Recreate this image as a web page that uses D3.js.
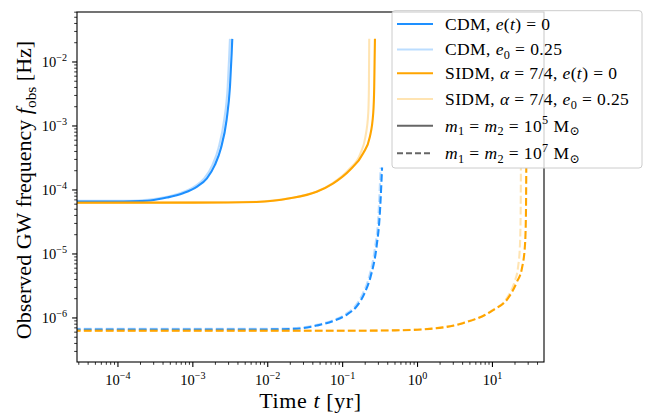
<!DOCTYPE html>
<html>
<head>
<meta charset="utf-8">
<script src="https://cdn.jsdelivr.net/npm/d3@7/dist/d3.min.js"></script>
<style>
  html, body { margin: 0; padding: 0; background: #fff; }
  svg { display: block; }
  text { font-family: "Liberation Serif", "DejaVu Serif", serif; fill: #000; }
</style>
</head>
<body>
<svg id="chart" width="647" height="413"></svg>
<script>
// ---------------- data ----------------
// [time t (yr), observed GW frequency f_obs (Hz)]
const cdmCirc5 = [[2.5e-5,6.6e-5],[1.2e-4,6.62e-5],[2.0e-4,6.72e-5],[2.7e-4,6.85e-5],[4.5e-4,7.6e-5],[7.4e-4,8.9e-5],[1.14e-3,1.13e-4],[1.54e-3,1.52e-4],[1.97e-3,2.46e-4],[2.37e-3,4.5e-4],[2.82e-3,1.24e-3],[3.13e-3,4.1e-3],[3.30e-3,1.38e-2],[3.36e-3,2.3e-2]];
const cdmEcc5  = [[2.5e-5,6.75e-5],[1.15e-4,6.77e-5],[1.9e-4,6.86e-5],[2.5e-4,7.0e-5],[4.2e-4,7.7e-5],[6.9e-4,9.0e-5],[1.06e-3,1.14e-4],[1.43e-3,1.53e-4],[1.83e-3,2.47e-4],[2.2e-3,4.5e-4],[2.62e-3,1.24e-3],[2.92e-3,4.1e-3],[3.07e-3,1.38e-2],[3.13e-3,2.3e-2]];
const sidmCirc5 = [[2.5e-5,6.3e-5],[1e-3,6.35e-5],[7.1e-3,6.5e-5],[1.98e-2,7.4e-5],[4.5e-2,9.4e-5],[7.5e-2,1.27e-4],[0.125,2.05e-4],[0.188,3.74e-4],[0.231,6.8e-4],[0.256,1.58e-3],[0.264,4.1e-3],[0.267,1.0e-2],[0.270,2.3e-2]];
const sidmEcc5  = [[2.5e-5,6.35e-5],[1e-3,6.4e-5],[7.1e-3,6.55e-5],[1.98e-2,7.45e-5],[4.5e-2,9.45e-5],[7.3e-2,1.27e-4],[0.1195,2.05e-4],[0.173,3.74e-4],[0.2016,6.8e-4],[0.2197,1.58e-3],[0.2244,4.1e-3],[0.2265,2.3e-2]];
const cdmCirc7 = [[2.5e-5,6.6e-7],[1.2e-2,6.62e-7],[2.0e-2,6.72e-7],[2.7e-2,6.85e-7],[4.5e-2,7.6e-7],[7.4e-2,8.9e-7],[0.114,1.13e-6],[0.154,1.52e-6],[0.197,2.46e-6],[0.237,4.5e-6],[0.282,1.24e-5],[0.313,4.1e-5],[0.330,1.38e-4],[0.336,2.25e-4]];
const cdmEcc7  = [[2.5e-5,6.75e-7],[1.15e-2,6.77e-7],[1.9e-2,6.86e-7],[2.6e-2,7.0e-7],[4.3e-2,7.7e-7],[7.1e-2,9.0e-7],[0.109,1.14e-6],[0.147,1.53e-6],[0.188,2.47e-6],[0.227,4.5e-6],[0.27,1.24e-5],[0.301,4.1e-5],[0.316,1.38e-4],[0.322,2.25e-4]];
const sidmCirc7 = [[2.5e-5,6.3e-7],[0.1,6.3e-7],[0.5,6.4e-7],[1.46,6.75e-7],[4.04,8.3e-7],[9.84,1.29e-6],[16.6,2.13e-6],[21.2,3.65e-6],[24.8,6.04e-6],[27.2,1.38e-5],[28.0,4.07e-5],[28.3,2.2e-4]];
const sidmEcc7  = [[2.5e-5,6.35e-7],[0.1,6.35e-7],[0.5,6.45e-7],[1.46,6.8e-7],[4.0,8.35e-7],[9.68,1.29e-6],[15.9,2.13e-6],[19.7,3.65e-6],[21.9,6.04e-6],[23.3,1.38e-5],[23.8,4.07e-5],[24.0,2.2e-4]];

const xTickExps = [-4, -3, -2, -1, 0, 1];
const yTickExps = [-6, -5, -4, -3, -2];
const xDomain = [2.84e-5, 48.8];
const yDomain = [2.05e-7, 0.0604];

// ---------------- layout ----------------
const svg = d3.select("#chart");
const L = 77, R = 544, T = 12, B = 362;
const x = d3.scaleLog().domain(xDomain).range([L, R]);
const y = d3.scaleLog().domain(yDomain).range([B, T]);

const BLUE = "#1e90ff", ORANGE = "#ffa500", GRAY = "#666666";

svg.append("clipPath").attr("id", "clip")
  .append("rect").attr("x", L).attr("y", T).attr("width", R - L).attr("height", B - T);

// rich text helper: segments {s, it, sup, sub}
function rich(textSel, segs, size) {
  let off = 0;
  segs.forEach(seg => {
    let target = 0, fs = size;
    if (seg.sup) { target = -0.42 * size; fs = 0.7 * size; }
    if (seg.sub) { target = 0.22 * size; fs = 0.7 * size; }
    const ts = textSel.append("tspan").text(seg.s).attr("font-size", fs);
    if (seg.it) ts.attr("font-style", "italic");
    if (target !== off) { ts.attr("dy", target - off); off = target; }
  });
}

// ---------------- lines ----------------
const line = d3.line().x(d => x(d[0])).y(d => y(d[1])).curve(d3.curveMonotoneX);
const g = svg.append("g").attr("clip-path", "url(#clip)");
const series = [
  { d: cdmCirc5, c: BLUE, o: 1, dash: null },
  { d: cdmEcc5, c: BLUE, o: 0.3, dash: null },
  { d: sidmCirc5, c: ORANGE, o: 1, dash: null },
  { d: sidmEcc5, c: ORANGE, o: 0.3, dash: null },
  { d: cdmCirc7, c: BLUE, o: 1, dash: "7.7,3.3" },
  { d: cdmEcc7, c: BLUE, o: 0.3, dash: "7.7,3.3" },
  { d: sidmCirc7, c: ORANGE, o: 1, dash: "7.7,3.3" },
  { d: sidmEcc7, c: ORANGE, o: 0.3, dash: "7.7,3.3" }
];
series.forEach(s => {
  g.append("path").attr("d", line(s.d)).attr("fill", "none")
    .attr("stroke", s.c).attr("stroke-opacity", s.o).attr("stroke-width", 2.1)
    .attr("stroke-dasharray", s.dash);
});

// ---------------- axes ----------------
const tickG = svg.append("g");
function logTicks(domain) {
  const out = [];
  for (let e = Math.floor(Math.log10(domain[0])); e <= Math.ceil(Math.log10(domain[1])); e++) {
    for (let m = 1; m <= 9; m++) {
      const v = m * Math.pow(10, e);
      if (v >= domain[0] && v <= domain[1]) out.push({ v, major: m === 1 });
    }
  }
  return out;
}
logTicks(xDomain).forEach(t => {
  const px = x(t.v);
  tickG.append("line").attr("x1", px).attr("x2", px).attr("y1", B).attr("y2", B + (t.major ? 4.9 : 2.8))
    .attr("stroke", "#000").attr("stroke-width", t.major ? 1.1 : 0.8);
});
logTicks(yDomain).forEach(t => {
  const py = y(t.v);
  tickG.append("line").attr("y1", py).attr("y2", py).attr("x1", L).attr("x2", L - (t.major ? 4.9 : 2.8))
    .attr("stroke", "#000").attr("stroke-width", t.major ? 1.1 : 0.8);
});
const TF = 14.5;
xTickExps.forEach(e => {
  const t = svg.append("text").attr("x", x(Math.pow(10, e))).attr("y", 385).attr("text-anchor", "middle");
  rich(t, [{ s: "10" }, { s: (e < 0 ? "\u2212" : "") + Math.abs(e), sup: true }], TF);
});
yTickExps.forEach(e => {
  const t = svg.append("text").attr("x", 67).attr("y", y(Math.pow(10, e)) + 4.8).attr("text-anchor", "end");
  rich(t, [{ s: "10" }, { s: "\u2212" + Math.abs(e), sup: true }], TF);
});

svg.append("rect").attr("x", L).attr("y", T).attr("width", R - L).attr("height", B - T)
  .attr("fill", "none").attr("stroke", "#000").attr("stroke-width", 1.1);

// axis labels
const xl = svg.append("text").attr("x", (L + R) / 2).attr("y", 408).attr("text-anchor", "middle")
  .attr("letter-spacing", 0.6);
rich(xl, [{ s: "Time " }, { s: "t", it: true }, { s: " [yr]" }], 22);
const yl = svg.append("text").attr("transform", `translate(31,190) rotate(-90)`).attr("text-anchor", "middle");
rich(yl, [{ s: "Observed GW frequency " }, { s: "f", it: true }, { s: "obs", sub: true }, { s: " [Hz]" }], 22);

// ---------------- legend ----------------
const leg = svg.append("g");
leg.append("rect").attr("x", 392).attr("y", 10.7).attr("width", 250).attr("height", 157.3).attr("rx", 3)
  .attr("fill", "#fff").attr("fill-opacity", 0.8).attr("stroke", "#cccccc").attr("stroke-width", 1);
const LF = 17.5;
const legendItems = [
  { y: 24, c: BLUE, o: 1, dash: null, segs: [{ s: "CDM, " }, { s: "e", it: true }, { s: "(" }, { s: "t", it: true }, { s: ") = 0" }] },
  { y: 49.5, c: BLUE, o: 0.3, dash: null, segs: [{ s: "CDM, " }, { s: "e", it: true }, { s: "0", sub: true }, { s: " = 0.25" }] },
  { y: 73.3, c: ORANGE, o: 1, dash: null, segs: [{ s: "SIDM, " }, { s: "\u03b1", it: true }, { s: " = 7/4, " }, { s: "e", it: true }, { s: "(" }, { s: "t", it: true }, { s: ") = 0" }] },
  { y: 99, c: ORANGE, o: 0.3, dash: null, segs: [{ s: "SIDM, " }, { s: "\u03b1", it: true }, { s: " = 7/4, " }, { s: "e", it: true }, { s: "0", sub: true }, { s: " = 0.25" }] },
  { y: 125.7, c: GRAY, o: 1, dash: null, segs: [{ s: "m", it: true }, { s: "1", sub: true }, { s: " = " }, { s: "m", it: true }, { s: "2", sub: true }, { s: " = 10" }, { s: "5", sup: true }, { s: " M" }, { s: "\u2299", sub: true }] },
  { y: 153.3, c: GRAY, o: 1, dash: "6,3", segs: [{ s: "m", it: true }, { s: "1", sub: true }, { s: " = " }, { s: "m", it: true }, { s: "2", sub: true }, { s: " = 10" }, { s: "7", sup: true }, { s: " M" }, { s: "\u2299", sub: true }] }
];
legendItems.forEach(it => {
  leg.append("line").attr("x1", 397).attr("x2", 433).attr("y1", it.y).attr("y2", it.y)
    .attr("stroke", it.c).attr("stroke-opacity", it.o).attr("stroke-width", 2.1).attr("stroke-dasharray", it.dash);
  const t = leg.append("text").attr("x", 445).attr("y", it.y + 5.8).attr("letter-spacing", 0.4);
  rich(t, it.segs, LF);
});
</script>
</body>
</html>
